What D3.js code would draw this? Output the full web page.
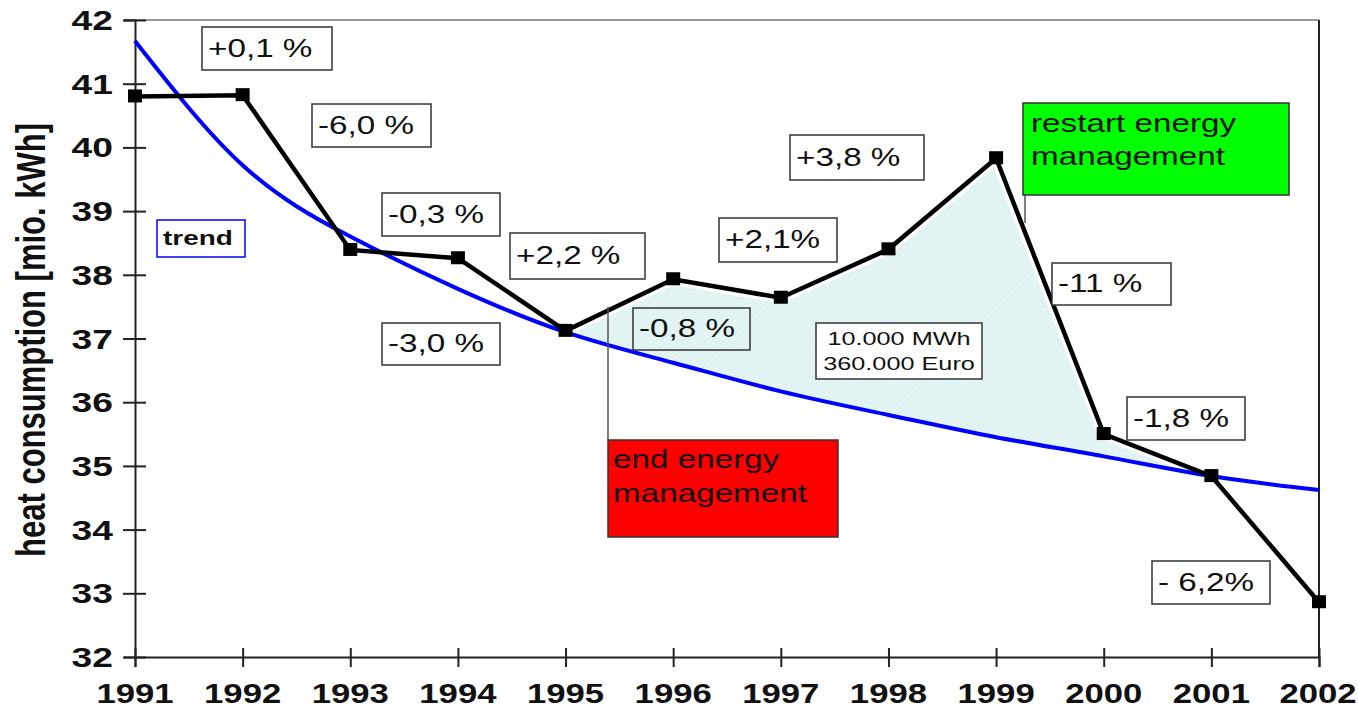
<!DOCTYPE html>
<html><head><meta charset="utf-8">
<script src="https://cdn.jsdelivr.net/npm/d3@7/dist/d3.min.js"></script>
<style>body{margin:0;background:#fff}svg{display:block}text{font-family:"Liberation Sans",Arial,sans-serif}</style>
</head><body>
<svg id="c" width="1358" height="714"></svg>
<script>
// ---- data ----
const years = [1991,1992,1993,1994,1995,1996,1997,1998,1999,2000,2001,2002];
const consumption = [40.8,40.82,38.39,38.26,37.12,37.93,37.64,38.4,39.83,35.5,34.84,32.86];
const trend = [41.67,39.72,38.6,37.78,37.1,36.62,36.17,35.8,35.45,35.15,34.84,34.62];
const yTicks = [32,33,34,35,36,37,38,39,40,41,42];
const xTicks = years;
const changeLabels = ["+0,1 %","-6,0 %","-0,3 %","+2,2 %","-3,0 %","-0,8 %","+2,1%","+3,8 %","-11 %","-1,8 %","- 6,2%"];
const savingLabel = ["10.000 MWh","360.000 Euro"];
const endLabel = ["end energy","management"];
const restartLabel = ["restart energy","management"];
const trendLabel = "trend";
const yTitle = "heat consumption [mio. kWh]";

// ---- layout ----
const SX = 1.33;
const svg = d3.select("#c");
const x = d3.scaleLinear().domain([1991,2002]).range([135,1319]);
const y = d3.scaleLinear().domain([32,42]).range([657,20]);
const pts = years.map((yr,i)=>({yr, v:consumption[i], t:trend[i]}));

// hatch pattern
const defs = svg.append("defs");
const pat = defs.append("pattern").attr("id","hatch").attr("patternUnits","userSpaceOnUse")
  .attr("width",4).attr("height",4).attr("patternTransform","rotate(45)");
pat.append("rect").attr("width",4).attr("height",4).attr("fill","#e4f5f5");
pat.append("line").attr("x1",0).attr("y1",0).attr("x2",0).attr("y2",4).attr("stroke","#d2ecec").attr("stroke-width",1);

// frame: top and right
svg.append("line").attr("x1",124).attr("x2",x(2002)).attr("y1",y(42)).attr("y2",y(42)).attr("stroke","#999").attr("stroke-width",2);
svg.append("line").attr("x1",x(2002)).attr("x2",x(2002)).attr("y1",y(42)).attr("y2",y(32)).attr("stroke","#222").attr("stroke-width",2);

// shaded saving area between consumption and trend (1995-2001)
const sub = pts.filter(d=>d.yr>=1995 && d.yr<=2001);
svg.append("path").datum(sub)
  .attr("d", d3.area().x(d=>x(d.yr)).y0(d=>y(d.t)).y1(d=>y(Math.max(d.v,d.t))))
  .attr("fill","url(#hatch)");

// white halo under data line
svg.append("path").datum(sub)
  .attr("d", d3.line().x(d=>x(d.yr)).y(d=>y(d.v)))
  .attr("fill","none").attr("stroke","#fff").attr("stroke-width",11).attr("stroke-linejoin","round");

// axes
const yAxis = svg.append("g").attr("transform",`translate(${x(1991)},0)`)
  .call(d3.axisLeft(y).tickValues(yTicks).tickSize(11).tickFormat(""));
yAxis.select(".domain").attr("stroke","#222").attr("stroke-width",2);
yAxis.selectAll(".tick line").attr("x1",11).attr("x2",-12).attr("stroke","#222").attr("stroke-width",2);

const xAxis = svg.append("g").attr("transform",`translate(0,${y(32)})`)
  .call(d3.axisBottom(x).tickValues(xTicks).tickSize(10).tickFormat(""));
xAxis.select(".domain").attr("stroke","#222").attr("stroke-width",2);
xAxis.selectAll(".tick line").attr("y1",-9).attr("y2",10).attr("stroke","#222").attr("stroke-width",2);

// tick labels
yTicks.forEach(v=>{
  svg.append("text").attr("transform",`translate(113,${y(v)+10}) scale(${SX},1)`)
    .attr("text-anchor","end").attr("font-weight","bold").attr("font-size",28).attr("fill","#111").text(v);
});
xTicks.forEach(v=>{
  const xx = Math.min(x(v), 1318);
  svg.append("text").attr("transform",`translate(${xx},703) scale(1.24,1)`)
    .attr("text-anchor","middle").attr("font-weight","bold").attr("font-size",28).attr("fill","#111").text(v);
});
svg.append("text").attr("transform",`translate(45,340) scale(${SX},1) rotate(-90)`)
  .attr("text-anchor","middle").attr("font-weight","bold").attr("font-size",31).attr("fill","#111").text(yTitle);

// trend line
svg.append("path").datum(pts)
  .attr("d", d3.line().x(d=>x(d.yr)).y(d=>y(d.t)).curve(d3.curveNatural))
  .attr("fill","none").attr("stroke","#0000ff").attr("stroke-width",4);

// consumption line
svg.append("path").datum(pts)
  .attr("d", d3.line().x(d=>x(d.yr)).y(d=>y(d.v)))
  .attr("fill","none").attr("stroke","#000").attr("stroke-width",4.5).attr("stroke-linejoin","miter");
svg.selectAll("rect.mk").data(pts).enter().append("rect").attr("class","mk")
  .attr("x",d=>x(d.yr)-7).attr("y",d=>y(d.v)-7).attr("width",14).attr("height",13).attr("fill","#000");

// connectors
svg.append("line").attr("x1",608).attr("x2",608).attr("y1",307).attr("y2",440).attr("stroke","#555").attr("stroke-width",1.5);
svg.append("line").attr("x1",1025).attr("x2",1025).attr("y1",195).attr("y2",223).attr("stroke","#555").attr("stroke-width",1.5);

// annotation boxes
const boxes = [
  [202,27,130,43],[312,104,119,43],[382,193,118,43],[510,233,135,46],[382,323,118,42],
  [633,308,117,42],[719,218,118,44],[790,135,134,45],[1052,263,119,42],[1127,397,118,43],[1152,561,118,43]
];
boxes.forEach((b,i)=>{
  svg.append("rect").attr("x",b[0]).attr("y",b[1]).attr("width",b[2]).attr("height",b[3])
    .attr("fill", i===5 ? "none" : "#fff").attr("stroke","#333").attr("stroke-width",1.5);
  svg.append("text").attr("transform",`translate(${b[0]+6},${b[1]+b[3]/2+8}) scale(${SX},1)`)
    .attr("font-size",25).attr("fill","#111").text(changeLabels[i]);
});

// saving box
svg.append("rect").attr("x",816).attr("y",323).attr("width",166).attr("height",56).attr("fill","#fff").attr("stroke","#333").attr("stroke-width",1.5);
savingLabel.forEach((s,i)=>{
  svg.append("text").attr("transform",`translate(899,${345+i*25}) scale(${SX},1)`)
    .attr("text-anchor","middle").attr("font-size",19).attr("fill","#111").text(s);
});

// end / restart boxes
svg.append("rect").attr("x",608).attr("y",440).attr("width",230).attr("height",97).attr("fill","#ff0000").attr("stroke","#333").attr("stroke-width",1.5);
endLabel.forEach((s,i)=>{
  svg.append("text").attr("transform",`translate(613,${468+i*34}) scale(${SX},1)`)
    .attr("font-size",25).attr("fill","#111").text(s);
});
svg.append("rect").attr("x",1023).attr("y",103).attr("width",266).attr("height",92).attr("fill","#00ff00").attr("stroke","#333").attr("stroke-width",1.5);
restartLabel.forEach((s,i)=>{
  svg.append("text").attr("transform",`translate(1031,${132+i*33}) scale(${SX},1)`)
    .attr("font-size",25).attr("fill","#111").text(s);
});

// trend label
svg.append("rect").attr("x",157).attr("y",220).attr("width",88).attr("height",37).attr("fill","#fff").attr("stroke","#0000ff").attr("stroke-width",1.5);
svg.append("text").attr("transform",`translate(163,245) scale(${SX},1)`)
  .attr("font-size",21).attr("font-weight","bold").attr("fill","#111").text(trendLabel);
</script>
</body></html>
